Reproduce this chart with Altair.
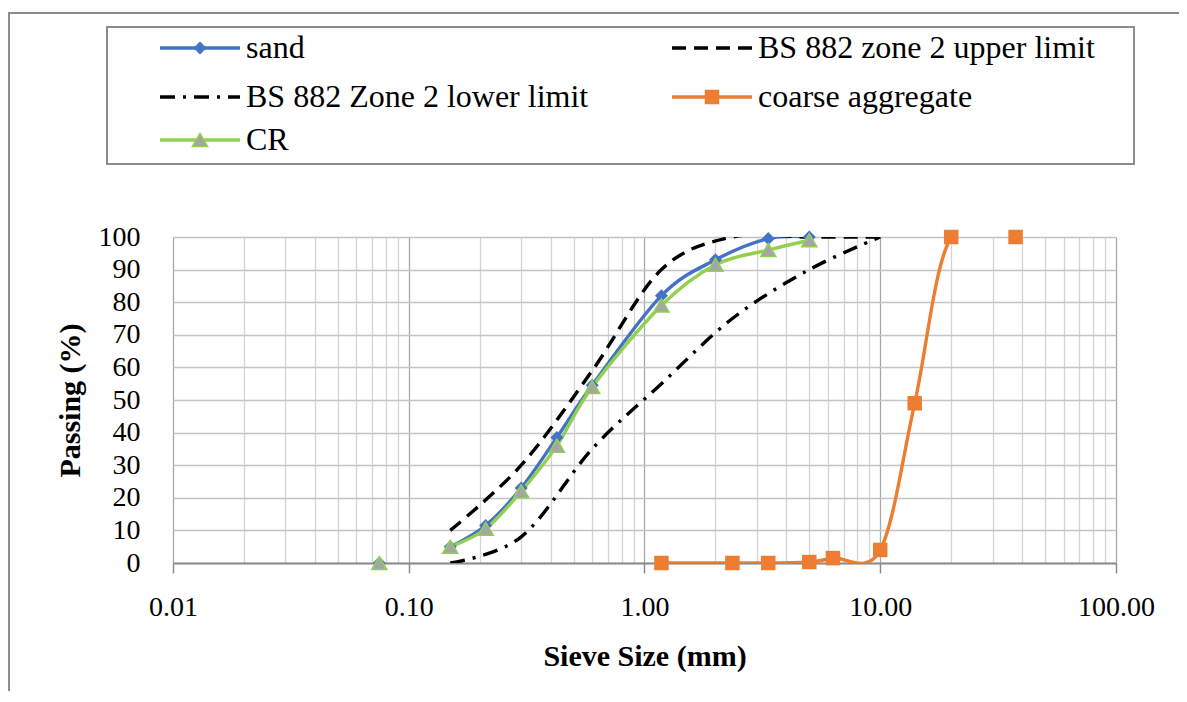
import altair as alt
import pandas as pd

# ---------------- data ----------------
series_names = ["sand", "BS 882 zone 2 upper limit", "BS 882 Zone 2 lower limit",
                "coarse aggregate", "CR"]

sand_sieve = [0.075, 0.15, 0.212, 0.3, 0.425, 0.6, 1.18, 2.0, 3.35, 5.0]
sand_pass = [0, 5, 11.5, 23, 38.5, 54.5, 82, 93, 99.5, 100]
sand_run = [0, 1, 1, 1, 1, 1, 1, 1, 1, 1]

cr_sieve = [0.075, 0.15, 0.212, 0.3, 0.425, 0.6, 1.18, 2.0, 3.35, 5.0]
cr_pass = [0, 5, 10.5, 22, 36, 54, 79, 91.5, 96, 99]
cr_run = [0, 1, 1, 1, 1, 1, 1, 1, 1, 1]

limit_sieve = [0.15, 0.3, 0.6, 1.18, 2.36, 5.0, 10.0]
upper_pass = [10, 30, 59, 90, 100, 100, 100]
lower_pass = [0, 8, 35, 55, 75, 90, 100]

coarse_sieve = [1.18, 2.36, 3.35, 5.0, 6.3, 10.0, 14.0, 20.0, 37.5]
coarse_pass = [0, 0, 0, 0.3, 1.5, 4, 49, 100, 100]

x_decades = [0.01, 0.1, 1, 10, 100]
x_minor = [m * d for d in x_decades[:-1] for m in range(1, 10)] + [x_decades[-1]]
y_ticks = list(range(0, 101, 10))

# ---------------- table ----------------
rows = []
def add(name, xs, ys, runs=None):
    for i, (a, b) in enumerate(zip(xs, ys)):
        rows.append({"series": name, "sieve": a, "passing": b,
                     "run": runs[i] if runs else 1})

add(series_names[0], sand_sieve, sand_pass, sand_run)
add(series_names[1], limit_sieve, upper_pass)
add(series_names[2], limit_sieve, lower_pass)
add(series_names[3], coarse_sieve, coarse_pass)
add(series_names[4], cr_sieve, cr_pass, cr_run)
df = pd.DataFrame(rows)

FONT = "Liberation Serif"
BLUE, ORANGE, GREEN, GRAY = "#4472C4", "#ED7D31", "#92D050", "#A5A5A5"

decade_test = "abs(log(datum.value)/LN10 - round(log(datum.value)/LN10)) < 0.001"

X = alt.X("sieve:Q",
          scale=alt.Scale(type="log", domain=[0.01, 100], nice=False),
          title="Sieve Size (mm)",
          axis=alt.Axis(values=x_minor,
                        labelExpr=f"{decade_test} ? format(datum.value, '.2f') : ''",
                        gridColor={"condition": {"test": decade_test, "value": "#A8A8A8"},
                                   "value": "#D4D4D4"},
                        gridWidth=1.3,
                        tickOpacity={"condition": {"test": decade_test, "value": 1},
                                     "value": 0},
                        tickSize=10, tickColor="#8C8C8C", tickWidth=1.5,
                        domainColor="#8C8C8C", domainWidth=1.8,
                        labelFont=FONT, labelFontSize=28, labelColor="black",
                        labelPadding=20, labelFlush=False, labelOverlap=False,
                        titleFont=FONT, titleFontSize=30, titleFontWeight="bold",
                        titleColor="black", titlePadding=20))
Y = alt.Y("passing:Q",
          scale=alt.Scale(domain=[0, 100], nice=False),
          title="Passing (%)",
          axis=alt.Axis(values=y_ticks, ticks=False, domain=False,
                        gridColor="#C4C4C4", gridWidth=1.3,
                        labelFont=FONT, labelFontSize=28, labelColor="black",
                        labelPadding=33,
                        titleFont=FONT, titleFontSize=30, titleFontWeight="bold",
                        titleColor="black", titlePadding=13))

base = alt.Chart(df).encode(x=X, y=Y)

def sel(i):
    return alt.datum.series == series_names[i]

sand_line = base.transform_filter(sel(0)).mark_line(
    interpolate="cardinal", clip=True, strokeWidth=3.4, color=BLUE).encode(detail="run:N")
sand_pts = base.transform_filter(sel(0)).mark_point(
    shape="diamond", filled=True, size=170, color=BLUE, opacity=1)

upper_line = base.transform_filter(sel(1)).mark_line(
    interpolate="cardinal", clip=True, strokeWidth=3.4, color="black", strokeDash=[14, 8])
lower_line = base.transform_filter(sel(2)).mark_line(
    interpolate="cardinal", clip=True, strokeWidth=3.4, color="black",
    strokeDash=[15, 8, 3, 8])

coarse_line = base.transform_filter(sel(3)).mark_line(
    interpolate="cardinal", clip=True, strokeWidth=3.4, color=ORANGE)
coarse_pts = base.transform_filter(sel(3)).mark_point(
    shape="square", filled=True, size=210, color=ORANGE, opacity=1)

cr_line = base.transform_filter(sel(4)).mark_line(
    interpolate="cardinal", clip=True, strokeWidth=3.4, color=GREEN).encode(detail="run:N")
cr_pts = base.transform_filter(sel(4)).mark_point(
    shape="triangle-up", filled=True, size=230, fill=GRAY, stroke=GREEN,
    strokeWidth=1.5, opacity=1)

# ---------------- decorations: outer frame and legend ----------------
one = pd.DataFrame({"k": [0]})
frame = alt.Chart(one).mark_rect(fill="white", fillOpacity=0, stroke="#8C8C8C",
                                 strokeWidth=2).encode(
    x=alt.value(-164), x2=alt.value(1100), y=alt.value(-224), y2=alt.value(600))
legend_box = alt.Chart(one).mark_rect(fill="white", fillOpacity=0, stroke="#8C8C8C",
                                      strokeWidth=2).encode(
    x=alt.value(-66), x2=alt.value(961), y=alt.value(-210), y2=alt.value(-73))

col_x = [-13, 499, -13, 499, -13]
row_y = [-189, -189, -140, -140, -97]
styles = [
    dict(color=BLUE, dash=None, shape="diamond", size=170, fill=BLUE, stroke=None),
    dict(color="black", dash=[14, 8], shape=None),
    dict(color="black", dash=[15, 8, 3, 8], shape=None),
    dict(color=ORANGE, dash=None, shape="square", size=210, fill=ORANGE, stroke=None),
    dict(color=GREEN, dash=None, shape="triangle-up", size=230, fill=GRAY, stroke=GREEN),
]
legend_layers = []
for i, name in enumerate(series_names):
    st = styles[i]
    x0, y0 = col_x[i], row_y[i]
    rule_kw = dict(color=st["color"], strokeWidth=3.4)
    if st["dash"]:
        rule_kw["strokeDash"] = st["dash"]
    legend_layers.append(alt.Chart(one).mark_rule(**rule_kw).encode(
        x=alt.value(x0), x2=alt.value(x0 + 80), y=alt.value(y0)))
    if st["shape"]:
        pkw = dict(shape=st["shape"], filled=True, size=st["size"], fill=st["fill"],
                   opacity=1)
        if st["stroke"]:
            pkw.update(stroke=st["stroke"], strokeWidth=1.5)
        legend_layers.append(alt.Chart(one).mark_point(**pkw).encode(
            x=alt.value(x0 + 40), y=alt.value(y0)))
    legend_layers.append(alt.Chart(one).mark_text(
        align="left", baseline="middle", font=FONT, fontSize=32, color="black").encode(
        x=alt.value(x0 + 86), y=alt.value(y0), text=alt.value(name)))

chart = alt.layer(
    frame, legend_box,
    sand_line, upper_line, lower_line, coarse_line, cr_line,
    sand_pts, coarse_pts, cr_pts,
    *legend_layers,
).properties(
    width=943, height=326,
    padding={"left": 165, "top": 229, "right": 63, "bottom": 128},
    autosize=alt.AutoSizeParams(type="none"),
    background="white",
).configure_view(stroke=None).configure_text(font=FONT).configure(font=FONT)

chart.save("out.html", embed_options={"renderer": "svg", "actions": False})
